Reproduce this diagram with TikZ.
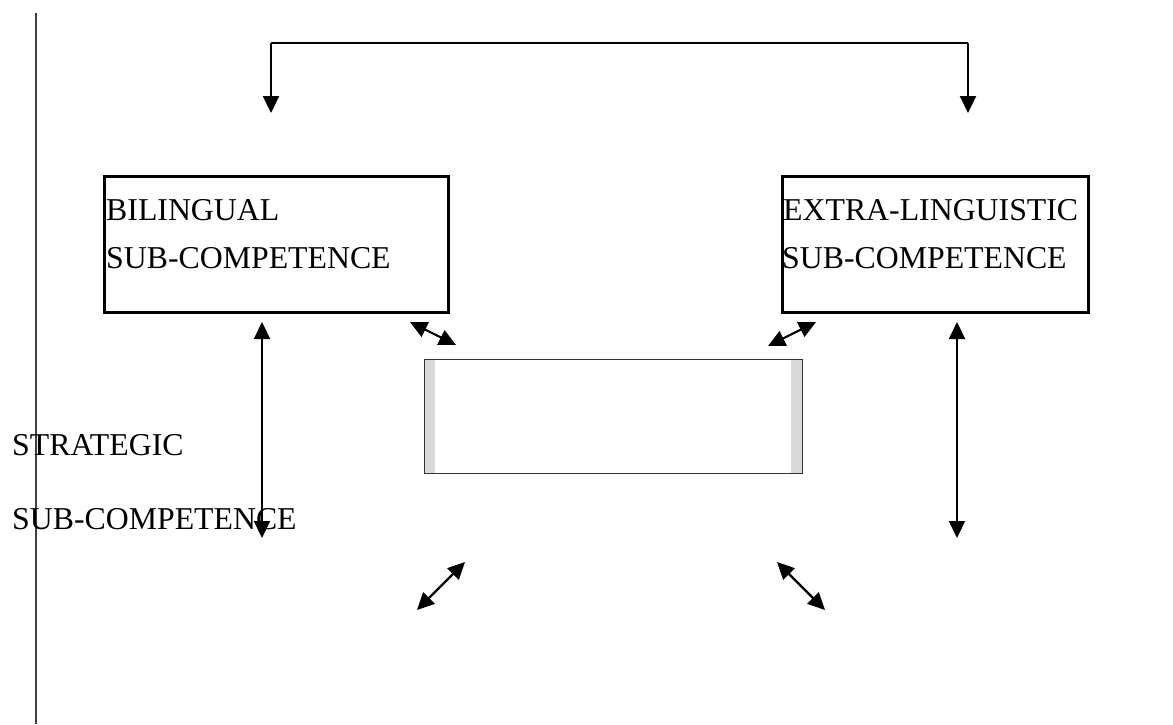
\documentclass[tikz,border=0pt]{standalone}
\usepackage{fontspec}
\setmainfont{Liberation Serif}
\usetikzlibrary{arrows.meta}
\tikzset{
  box/.style={draw=black, line width=3pt, inner sep=0pt, fill=none},
  lbl/.style={anchor=base west, inner sep=0pt, font=\fontsize{31.8}{38}\selectfont},
  tip/.style={Triangle[length=17pt,width=16pt]},
  conn/.style={line width=2.2pt, -{Triangle[length=17pt,width=16pt]}},
  dconn/.style={line width=2.2pt, {Triangle[length=17pt,width=16pt]}-{Triangle[length=17pt,width=16pt]}},
  bar/.style={fill=gray!30, draw=none},
}
\begin{document}
\begin{tikzpicture}[x=1pt,y=-1pt]
\useasboundingbox (0,0) rectangle (1173,724);
\fill[white] (0,0) rectangle (1173,724);
% left margin line
\coordinate (mt) at (36,13);
\coordinate (mb) at (36,724);
\draw[line width=1.2pt, black!75] (mt) -- (mb);
% boxes
\node[box, minimum width=344pt, minimum height=136pt] (bil) at (276,244) {};
\node[box, minimum width=306pt, minimum height=136pt] (ext) at (935,244) {};
% centre box
\fill[bar] (424,359) rectangle (435,473);
\fill[bar] (791,359) rectangle (802,473);
\node[draw=black!80, line width=1pt, minimum width=378pt, minimum height=114pt, inner sep=0pt] (cen) at (613,416) {};
% labels
\node[lbl] (b1) at (106,220) {BILINGUAL};
\node[lbl] (b2) at (106,268) {SUB-COMPETENCE};
\node[lbl] (e1) at (783,220) {EXTRA-LINGUISTIC};
\node[lbl] (e2) at (782,268) {SUB-COMPETENCE};
\node[lbl] (s1) at (12,455) {STRATEGIC};
\node[lbl] (s2) at (12,529) {SUB-COMPETENCE};
% top bracket
\coordinate (tl) at (271,43);
\coordinate (tr) at (968,43);
\coordinate (tla) at (271,113);
\coordinate (tra) at (968,113);
\draw[line width=1.8pt] (tl) -- (tr);
\draw[conn] (tl) -- (tla);
\draw[conn] (tr) -- (tra);
% vertical double arrows
\coordinate (lv1) at (262,322);
\coordinate (lv2) at (262,538);
\coordinate (rv1) at (957,322);
\coordinate (rv2) at (957,538);
\draw[dconn] (lv1) -- (lv2);
\draw[dconn] (rv1) -- (rv2);
% small diagonal arrows
\coordinate (d1a) at (410,322);
\coordinate (d1b) at (456,345);
\coordinate (d2a) at (768,346);
\coordinate (d2b) at (816,322);
\coordinate (d3a) at (417,610);
\coordinate (d3b) at (465,562);
\coordinate (d4a) at (777,562);
\coordinate (d4b) at (825,610);
\draw[dconn] (d1a) -- (d1b);
\draw[dconn] (d2a) -- (d2b);
\draw[dconn] (d3a) -- (d3b);
\draw[dconn] (d4a) -- (d4b);
\end{tikzpicture}
\end{document}
